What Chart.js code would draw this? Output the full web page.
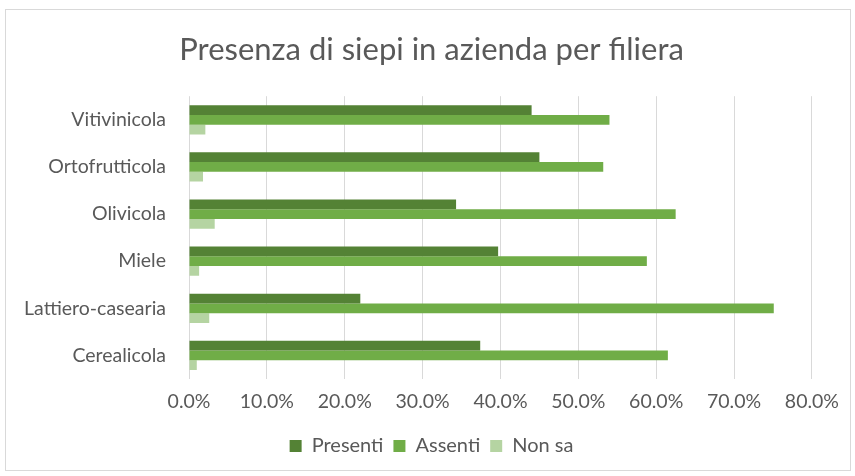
<!DOCTYPE html>
<html>
<head>
<meta charset="utf-8">
<script src="https://cdn.jsdelivr.net/npm/chart.js@4"></script>
<style>
  body { margin: 0; background: #fff; }
  #box { position: absolute; left: 5px; top: 9px; width: 844px; height: 460px; border: 1px solid #d9d9d9; }
</style>
</head>
<body>
<div id="box"><canvas id="myChart" width="844" height="460"></canvas></div>
<script>
const categories = ['Vitivinicola', 'Ortofrutticola', 'Olivicola', 'Miele', 'Lattiero-casearia', 'Cerealicola'];
const presenti = [44.0, 45.0, 34.3, 39.7, 22.0, 37.4];
const assenti = [54.0, 53.2, 62.5, 58.8, 75.1, 61.5];
const nonSa = [2.1, 1.8, 3.3, 1.3, 2.6, 1.0];
const xTicks = [0, 10, 20, 30, 40, 50, 60, 70, 80];

const font = 'Lato';
const grey = '#595959';

const ctx = document.getElementById('myChart').getContext('2d');
new Chart(ctx, {
    type: 'bar',
    data: {
        labels: categories,
        datasets: [
            { label: 'Presenti', data: presenti, backgroundColor: '#548235' },
            { label: 'Assenti', data: assenti, backgroundColor: '#70ad47' },
            { label: 'Non sa', data: nonSa, backgroundColor: '#b5d4a2' }
        ]
    },
    options: {
        indexAxis: 'y',
        responsive: false,
        animation: false,
        barPercentage: 1,
        categoryPercentage: 0.62,
        layout: { padding: { left: 10, right: 3, top: 0, bottom: 4 } },
        plugins: {
            title: {
                display: true,
                text: 'Presenza di siepi in azienda per filiera',
                color: grey,
                font: { family: font, size: 31, weight: 'normal' },
                padding: { top: 21, bottom: 28 }
            },
            legend: {
                position: 'bottom',
                labels: {
                    color: grey,
                    font: { family: font, size: 20 },
                    boxWidth: 12,
                    boxHeight: 12,
                    padding: 10
                }
            },
            tooltip: { enabled: false }
        },
        scales: {
            x: {
                min: 0,
                max: 80,
                afterBuildTicks: axis => { axis.ticks = xTicks.map(v => ({ value: v })); },
                afterFit: axis => { axis.height = 47; },
                grid: { color: '#d9d9d9', drawTicks: false },
                border: { display: false },
                ticks: {
                    color: grey,
                    font: { family: font, size: 19.5 },
                    padding: 11,
                    callback: v => v.toFixed(1) + '%'
                }
            },
            y: {
                afterFit: axis => { axis.width = 173; },
                grid: { display: false },
                border: { display: false },
                ticks: {
                    color: grey,
                    font: { family: font, size: 19.5 },
                    padding: 15
                }
            }
        }
    }
});
</script>
</body>
</html>
